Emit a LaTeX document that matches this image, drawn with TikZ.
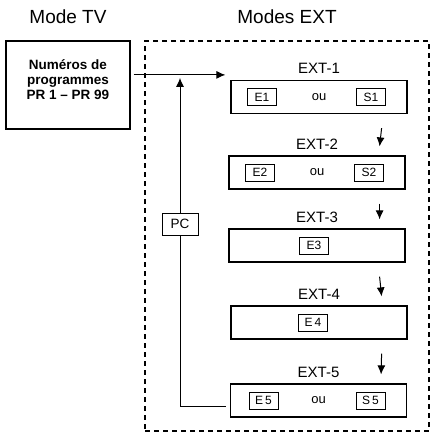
\documentclass[tikz,border=0pt]{standalone}
\usepackage{fontspec}
\setmainfont{Liberation Sans}
\usetikzlibrary{arrows.meta, positioning, backgrounds}

\begin{document}
\begin{tikzpicture}[
        x=1pt, y=-1pt,
        title/.style={font=\fontsize{19}{22}\selectfont},
        progbox/.style={
            draw,
            line width=1.2pt,
            minimum width=124pt,
            minimum height=88pt,
            font=\fontsize{13.5}{15}\selectfont\bfseries
        },
        extframe/.style={
            draw,
            line width=1.8pt,
            dash pattern=on 5pt off 4pt,
            minimum width=284pt,
            minimum height=390pt
        },
        extbox/.style={draw, line width=1.2pt, minimum width=176pt, minimum height=33pt},
        extlabel/.style={font=\fontsize{15}{18}\selectfont, inner sep=1pt},
        modebox/.style={
            draw,
            line width=0.9pt,
            minimum width=29pt,
            minimum height=17pt,
            inner sep=1pt,
            font=\fontsize{12}{13}\selectfont
        },
        ortext/.style={font=\fontsize{13}{14}\selectfont},
        pcbox/.style={
            draw,
            fill=white,
            line width=0.9pt,
            minimum width=36pt,
            minimum height=22pt,
            font=\fontsize{13.5}{15}\selectfont
        },
        link/.style={line width=1pt, -{Latex[length=9pt, width=8pt]}}
    ]
        \useasboundingbox (0,0) rectangle (432,434);

        \node[title] (tvtitle) at (68,17) {Mode TV};
        \node[title] (exttitle) at (287,17) {Modes EXT};

        \node[progbox] (prog) at (68,85) {\raisebox{4pt}[\height][\depth]{%
            \begin{tabular}{@{}c@{}}Numéros de\\programmes\\PR 1 -- PR 99\end{tabular}}};
        \node[extframe] (frame) at (287,236) {};

        \node[extbox] (ext1) at (319,97) {};
        \node[extbox] (ext2) at (317,172.5) {};
        \node[extbox] (ext3) at (317,245.5) {};
        \node[extbox] (ext4) at (319,322.5) {};
        \node[extbox] (ext5) at (318.5,400.5) {};

        % labels over the boxes
        \foreach \i in {1,...,5}
            \node[extlabel, above=5pt of ext\i] (label\i) {EXT-\i};

        % sources in each mode
        \node[modebox] (e1) at ([xshift=-57pt]ext1.center) {E1};
        \node[ortext] (or1) at (ext1.center) {ou};
        \node[modebox] (s1) at ([xshift=52pt]ext1.center) {S1};
        \node[modebox] (e2) at ([xshift=-57pt]ext2.center) {E2};
        \node[ortext] (or2) at (ext2.center) {ou};
        \node[modebox] (s2) at ([xshift=52pt]ext2.center) {S2};
        \node[modebox] (e3) at ([xshift=-3pt]ext3.center) {E3};
        \node[modebox] (e4) at ([xshift=-6pt]ext4.center) {E\,4};
        \node[modebox] (e5) at ([xshift=-55pt]ext5.center) {E\,5};
        \node[ortext] (or5) at (ext5.center) {ou};
        \node[modebox] (s5) at ([xshift=52pt]ext5.center) {S\,5};

        \foreach \i/\j in {1/2, 2/3, 3/4, 4/5}
            \draw[link]
                ([xshift=-26pt, yshift=-14pt]ext\i.south east)
                -- ([xshift=-26pt, yshift=9pt]ext\j.north east);

        \coordinate (entry) at ([xshift=-5pt, yshift=5pt]ext1.north west);
        \node[pcbox] (pc) at (180,224) {PC};

        \draw[link] ([xshift=3pt]prog.east |- entry) -- (entry);
        \begin{scope}[on background layer]
            \draw[link]
                ([xshift=-4pt, yshift=-6pt]ext5.west)
                -| ([yshift=-3pt]pc |- entry);
        \end{scope}
    \end{tikzpicture}
\end{document}
